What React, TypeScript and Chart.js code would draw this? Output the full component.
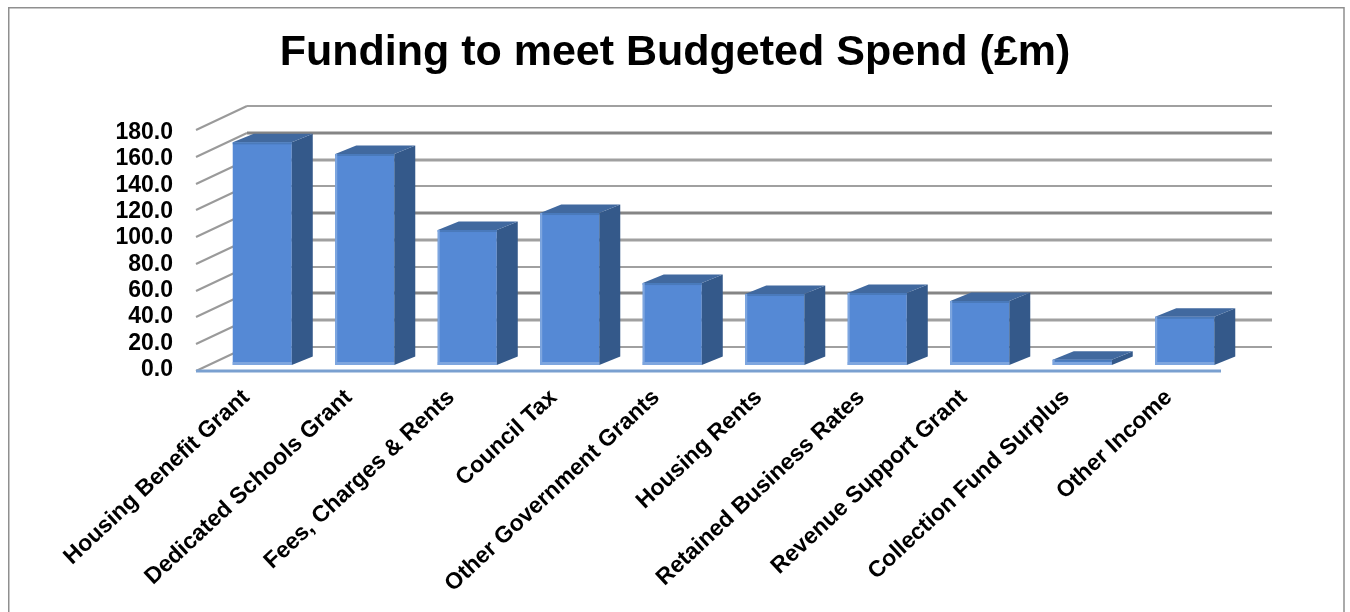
import React, { useEffect, useRef } from "react";
import { Chart, registerables } from "chart.js";

Chart.register(...registerables);

const categories = [
  "Housing Benefit Grant",
  "Dedicated Schools Grant",
  "Fees, Charges & Rents",
  "Council Tax",
  "Other Government Grants",
  "Housing Rents",
  "Retained Business Rates",
  "Revenue Support Grant",
  "Collection Fund Surplus",
  "Other Income",
];
const funding = [166.3, 157.6, 100.8, 113.5, 61.2, 53, 53.8, 47.8, 4, 36];
const tickValues = [0, 20, 40, 60, 80, 100, 120, 140, 160, 180];

const FONT = '"Liberation Sans", Arial, sans-serif';
const FRONT = "#5589d5";
const FRONT_LIGHT = "#7ea6df";
const TOP = "#41699f";
const TOP_EDGE = "#4a7abb";
const SIDE = "#34598a";

// Depth offsets of the pseudo-3D box, relative to the plane of the bars' fronts.
const BAR_DEPTH = { dx: 21, dy: -8.5 };
const WALL_DEPTH = { dx: 36, dy: -18 };
const FLOOR_EDGE = { dx: -15, dy: 6 };

// Outer frame of the chart object; it runs off the lower edge of the page.
const framePlugin = {
  id: "frame",
  beforeDraw(chart: any) {
    const { ctx, width, height } = chart;
    ctx.save();
    ctx.strokeStyle = "#8f8f8f";
    ctx.lineWidth = 1.5;
    ctx.beginPath();
    ctx.moveTo(8.75, height + 2);
    ctx.lineTo(8.75, 7.75);
    ctx.lineTo(width - 6, 7.75);
    ctx.lineTo(width - 6, height + 2);
    ctx.stroke();
    ctx.restore();
  },
};

// Back wall lines, side wall diagonals and the front floor edge.
const wallPlugin = {
  id: "wall",
  beforeDatasetsDraw(chart: any) {
    const { ctx, chartArea, scales } = chart;
    const y = scales.y;
    ctx.save();
    tickValues.forEach((v, i) => {
      const py = Math.round(y.getPixelForValue(v));
      const dark = i % 3 === 2;
      ctx.strokeStyle = dark ? "#858585" : "#a0a0a0";
      ctx.lineWidth = dark || i % 3 === 1 ? 3 : 2;
      ctx.beginPath();
      ctx.moveTo(chartArea.left + WALL_DEPTH.dx, py + WALL_DEPTH.dy);
      ctx.lineTo(chartArea.right + WALL_DEPTH.dx, py + WALL_DEPTH.dy);
      ctx.stroke();
      ctx.strokeStyle = "#9a9a9a";
      ctx.lineWidth = 2;
      ctx.beginPath();
      ctx.moveTo(chartArea.left + FLOOR_EDGE.dx, py + FLOOR_EDGE.dy);
      ctx.lineTo(chartArea.left + WALL_DEPTH.dx, py + WALL_DEPTH.dy);
      ctx.stroke();
    });
    ctx.strokeStyle = "#7aa0d0";
    ctx.lineWidth = 3;
    ctx.beginPath();
    ctx.moveTo(chartArea.left + FLOOR_EDGE.dx, chartArea.bottom + FLOOR_EDGE.dy);
    ctx.lineTo(chartArea.right + FLOOR_EDGE.dx, chartArea.bottom + FLOOR_EDGE.dy);
    ctx.stroke();
    ctx.restore();
  },
};

// Top and side faces of every bar, derived from the bar elements themselves.
const boxFacesPlugin = {
  id: "boxFaces",
  afterDatasetsDraw(chart: any) {
    const { ctx } = chart;
    const { dx, dy } = BAR_DEPTH;
    ctx.save();
    chart.getDatasetMeta(0).data.forEach((bar: any, i: number) => {
      const { x, y, base, width } = bar.getProps(["x", "y", "base", "width"], true);
      const l = x - width / 2;
      const r = x + width / 2;

      ctx.fillStyle = SIDE;
      ctx.beginPath();
      ctx.moveTo(r, y);
      ctx.lineTo(r + dx, y + dy);
      ctx.lineTo(r + dx, base + dy);
      ctx.lineTo(r, base);
      ctx.closePath();
      ctx.fill();

      ctx.fillStyle = TOP;
      ctx.beginPath();
      ctx.moveTo(l, y);
      ctx.lineTo(l + dx, y + dy);
      ctx.lineTo(r + dx, y + dy);
      ctx.lineTo(r, y);
      ctx.closePath();
      ctx.fill();

      ctx.fillStyle = TOP_EDGE;
      ctx.fillRect(l, y, width, 2);

      ctx.fillStyle = FRONT_LIGHT;
      ctx.fillRect(l, base - 3, width, 3);
      if (i > 0) ctx.fillRect(l, y, 2, base - y);
    });
    ctx.restore();
  },
};

export default function App() {
  const ref = useRef<HTMLCanvasElement>(null);

  useEffect(() => {
    const chart = new Chart(ref.current!, {
      type: "bar",
      data: {
        labels: categories,
        datasets: [
          {
            label: "Funding",
            data: funding,
            backgroundColor: FRONT,
            borderWidth: 0,
            barPercentage: 0.576,
            categoryPercentage: 1,
            yAxisID: "y",
          },
        ],
      },
      options: {
        responsive: false,
        animation: false,
        layout: { padding: 0 },
        plugins: {
          legend: { display: false },
          tooltip: { enabled: false },
          title: {
            display: true,
            text: "Funding to meet Budgeted Spend (£m)",
            color: "#000000",
            font: { family: FONT, size: 43, weight: "bold", lineHeight: 1.2 },
            padding: { top: 27, bottom: 45.4 },
          },
        },
        scales: {
          x: {
            grid: { display: false },
            border: { display: false },
            afterFit(scale: any) {
              scale.height = 247;
            },
            ticks: {
              autoSkip: false,
              minRotation: 43,
              maxRotation: 43,
              padding: 11,
              labelOffset: -16,
              color: "#000000",
              font: { family: FONT, size: 23, weight: "bold" },
            },
          },
          // Bars are measured on this axis; its labels live on the front edge axis.
          y: {
            position: "right",
            min: 0,
            max: 180,
            grid: { display: false },
            border: { display: false },
            ticks: { display: false },
            afterFit(scale: any) {
              scale.width = 114;
            },
          },
          // Value labels sit on the nearer, slightly shorter plane of the box.
          yLabels: {
            position: "left",
            min: -2.65,
            max: 180.38,
            grid: { display: false, drawTicks: false },
            border: { display: false },
            afterBuildTicks(scale: any) {
              scale.ticks = tickValues.map((value) => ({ value }));
            },
            afterFit(scale: any) {
              scale.width = 211;
            },
            ticks: {
              autoSkip: false,
              padding: 38,
              labelOffset: 8,
              color: "#000000",
              font: { family: FONT, size: 23, weight: "bold" },
              callback: (v: any) => Number(v).toFixed(1),
            },
          },
        },
      } as any,
      plugins: [framePlugin, wallPlugin, boxFacesPlugin],
    });
    return () => chart.destroy();
  }, []);

  return (
    <canvas
      ref={ref}
      width={1350}
      height={612}
      style={{ position: "absolute", left: 0, top: 0, width: 1350, height: 612 }}
    />
  );
}
